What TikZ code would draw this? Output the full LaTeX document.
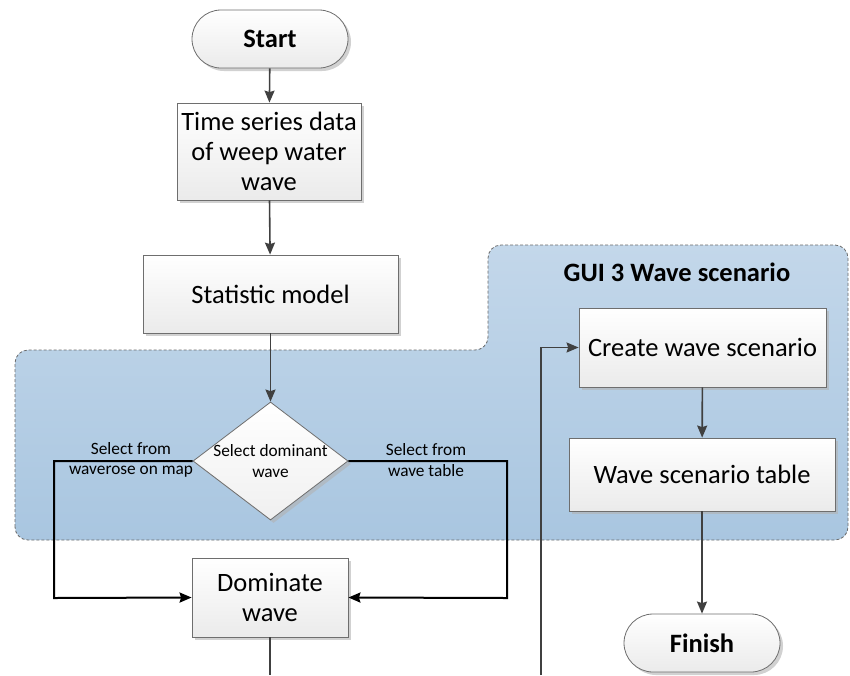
\documentclass[tikz,border=0pt]{standalone}
\usepackage{fontspec}
\setmainfont{Carlito}
\usetikzlibrary{arrows.meta,shapes.geometric,shadows}

\definecolor{boxline}{HTML}{6E6E6E}
\definecolor{conn}{HTML}{404040}
\definecolor{regtop}{HTML}{C3D7EA}
\definecolor{regbot}{HTML}{A9C6E0}
\definecolor{regline}{HTML}{6A6A6A}

\tikzset{
  boxshadow/.style={drop shadow={shadow xshift=3pt,shadow yshift=-3pt,fill=black!30,opacity=0.6}},
  procbox/.style={draw=boxline, line width=0.8pt, top color=white, bottom color=black!8,
    boxshadow, align=center, inner sep=0pt, font=\fontsize{26.5}{30}\selectfont},
  termbox/.style={procbox, rounded corners=29pt, font=\bfseries\fontsize{26.5}{30}\selectfont},
  decbox/.style={diamond, draw=boxline, line width=0.8pt, top color=white, bottom color=black!6,
    boxshadow, inner sep=0pt},
  smalltext/.style={align=center, font=\fontsize{17.3}{20.5}\selectfont},
  flow/.style={draw=conn, line width=1.6pt, -{Stealth[length=12pt,width=10pt,inset=1.5pt]}},
  plain/.style={draw=conn, line width=1.6pt},
  branch/.style={draw=black, line width=2pt, -{Stealth[length=12pt,width=10pt,inset=1.5pt]}},
}

\begin{document}
\begin{tikzpicture}[x=1pt,y=-1pt]
\useasboundingbox (0,0) rectangle (850,675);

% GUI 3 region
\path[top color=regtop, bottom color=regbot, draw=regline, densely dashed, line width=0.8pt,
      rounded corners=13pt]
  (15,540) -- (15,350) -- (488,350) -- (488,245) -- (848,245) -- (848,540) -- cycle;
\node[font=\bfseries\fontsize{26.5}{30}\selectfont] (guititle) at (677,272) {GUI 3 Wave scenario};

% main column
\node[termbox, minimum width=156pt, minimum height=58pt] (start) at (270,39) {Start};
\node[procbox, minimum width=184pt, minimum height=97pt] (series) at (269,151.5)
  {Time series data\\of weep water\\wave};
\node[procbox, minimum width=255pt, minimum height=78pt] (stat) at (270.5,294) {Statistic model};
\node[decbox, minimum width=155pt, minimum height=118pt] (dec) at (270.5,461) {};
\node[smalltext] (dectext) at (270.5,461) {Select dominant\\wave};
\node[procbox, minimum width=156pt, minimum height=79pt] (dom) at (270,597.5) {Dominate\\wave};

% right column
\node[procbox, minimum width=247pt, minimum height=79pt] (create) at (702.5,347.5) {Create wave scenario};
\node[procbox, minimum width=266pt, minimum height=73pt] (table) at (702,474.5) {Wave scenario table};
\node[termbox, minimum width=156pt, minimum height=58pt] (finish) at (702,643) {Finish};

% branch labels
\node[smalltext] (lbl1) at (131,460) {Select from\\waverose on map};
\node[smalltext] (lbl2) at (426,460) {Select from\\wave table};

% free ends at the lower edge
\coordinate (domout) at (270,675);
\coordinate (loopin) at (541,675);

% connectors
\draw[flow] (start) -- (series);
\draw[flow] (series) -- (stat);
\draw[flow] (stat) -- (dec);
\draw[branch] (dec.west) -| (54,598) -- (dom.west);
\draw[branch] (dec.east) -| (507,598) -- (dom.east);
\draw[plain] (dom) -- (domout);
\draw[flow] (loopin) |- (create.west);
\draw[flow] (create) -- (table);
\draw[flow] (table) -- (finish);
\end{tikzpicture}
\end{document}
